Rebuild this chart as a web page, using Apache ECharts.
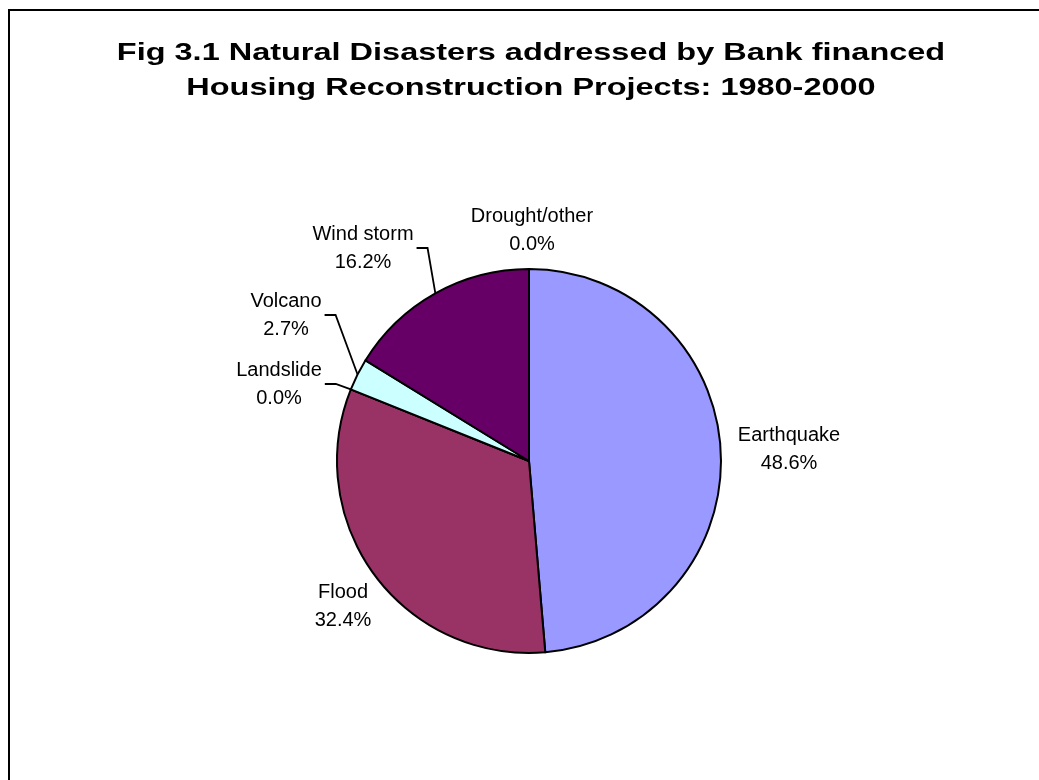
<!DOCTYPE html>
<html><head><meta charset="utf-8">
<script src="https://cdn.jsdelivr.net/npm/echarts@6/dist/echarts.min.js"></script>
<style>html,body{margin:0;padding:0;background:#fff}#c{width:1039px;height:780px}</style>
</head><body><div id="c"></div>
<script>
// ---- data ----
const titleLines = ['Fig 3.1 Natural Disasters addressed by Bank financed', 'Housing Reconstruction Projects: 1980-2000'];
const categories = ['Earthquake', 'Flood', 'Landslide', 'Volcano', 'Wind storm', 'Drought/other'];
const shares = [48.6, 32.4, 0.0, 2.7, 16.2, 0.0];

// ---- styling / layout ----
const colors = ['#9999FF', '#993366', '#FFFFCC', '#CCFFFF', '#660066', '#FF8080'];
// centre of each two-line label (px) and whether it has a leader line
const labelPos = [[789, 449, false], [343, 606, false], [279, 384, true], [286, 315, true], [363, 248, true], [532, 230, false]];
const FONT = '"Liberation Sans", Arial, Helvetica, sans-serif';

const chart = echarts.init(document.getElementById('c'), null, {renderer: 'canvas'});
const data = categories.map((name, i) => ({
  name: name,
  value: shares[i],
  itemStyle: {color: colors[i]},
  labelLine: {show: labelPos[i][2]}
}));

chart.setOption({
  animation: false,
  backgroundColor: '#ffffff',
  graphic: [
    {type: 'rect', z: 0, shape: {x: 9, y: 10, width: 1200, height: 1000},
     style: {fill: 'none', stroke: '#000', lineWidth: 2}, silent: true},
    {type: 'text', z: 10, x: 531, y: 71, scaleX: 1.353, silent: true,
     style: {text: titleLines.join('\n'), align: 'center', verticalAlign: 'middle',
             fontFamily: FONT, fontWeight: 'bold', fontSize: 24, lineHeight: 34.5, fill: '#000'}}
  ],
  series: [{
    type: 'pie',
    center: [529, 461],
    radius: 192,
    startAngle: 90,
    clockwise: true,
    avoidLabelOverlap: false,
    silent: true,
    emphasis: {disabled: true},
    itemStyle: {borderColor: '#000', borderWidth: 2},
    label: {
      show: true, position: 'outside', color: '#000', fontFamily: FONT, fontSize: 20, lineHeight: 28,
      formatter: p => p.name + '\n' + Number(p.value).toFixed(1) + '%'
    },
    labelLine: {show: true, length: 10, length2: 10, lineStyle: {color: '#000', width: 1.8}},
    labelLayout: function (p) {
      const pos = labelPos[p.dataIndex];
      const out = {x: pos[0], y: pos[1], align: 'center', verticalAlign: 'middle'};
      if (pos[2] && p.labelLinePoints && p.labelLinePoints.length) {
        const right = pos[0] + p.labelRect.width / 2;
        out.labelLinePoints = [p.labelLinePoints[0], [right + 14, pos[1]], [right + 3, pos[1]]];
      }
      return out;
    },
    data: data
  }]
});
</script></body></html>
